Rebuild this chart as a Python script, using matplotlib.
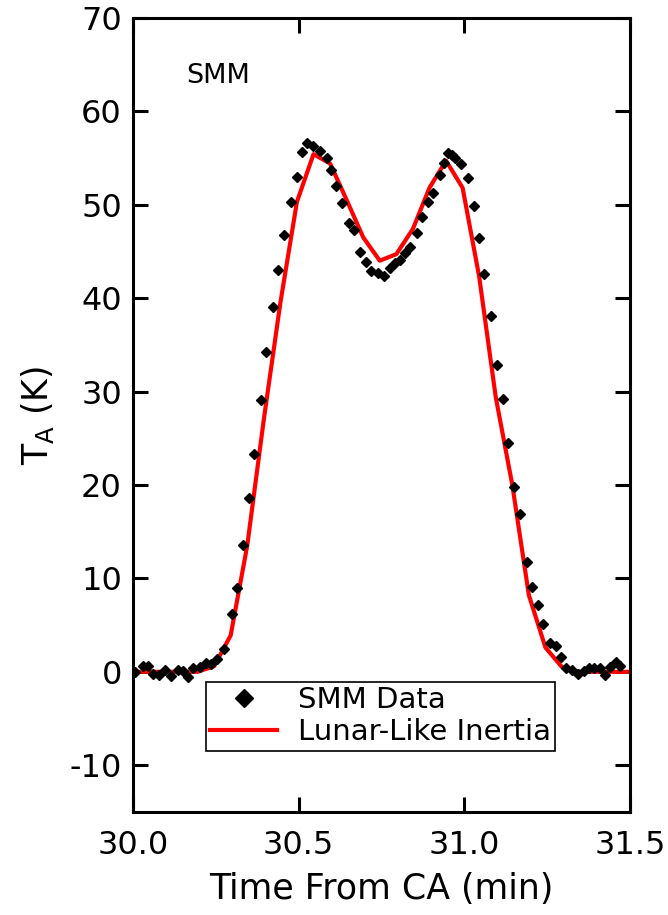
import matplotlib
matplotlib.use("Agg")
import matplotlib.pyplot as plt

plt.rcParams['font.family'] = ['DejaVu Sans']
plt.rcParams['axes.unicode_minus'] = False

# SMM data (time from CA in min, antenna temperature in K)
data_t = [30.006, 30.030, 30.046, 30.061, 30.078, 30.096, 30.116, 30.136, 30.151,
          30.166, 30.181, 30.201, 30.221, 30.236, 30.253, 30.276, 30.298, 30.313,
          30.333, 30.350, 30.366, 30.388, 30.403, 30.422, 30.439, 30.455, 30.477,
          30.494, 30.510, 30.526, 30.542, 30.564, 30.585, 30.597, 30.614, 30.631,
          30.651, 30.668, 30.685, 30.702, 30.719, 30.739, 30.758, 30.776, 30.791,
          30.806, 30.821, 30.836, 30.856, 30.871, 30.891, 30.906, 30.926, 30.940,
          30.952, 30.962, 30.972, 30.989, 31.012, 31.030, 31.044, 31.060, 31.080,
          31.098, 31.117, 31.133, 31.150, 31.168, 31.188, 31.205, 31.222, 31.238,
          31.258, 31.276, 31.293, 31.308, 31.326, 31.344, 31.361, 31.377, 31.393,
          31.409, 31.425, 31.441, 31.457, 31.470]
data_T = [0.0, 0.6, 0.6, -0.25, -0.3, 0.2, -0.4, 0.15, 0.1,
          -0.6, 0.4, 0.5, 0.9, 0.8, 1.35, 2.4, 6.2, 9.0,
          13.6, 18.6, 23.3, 29.1, 34.2, 39.0, 43.0, 46.8, 50.3,
          53.0, 55.6, 56.6, 56.3, 55.7, 55.0, 53.7, 52.0, 50.2,
          48.0, 47.3, 44.9, 43.9, 42.9, 42.7, 42.4, 43.2, 43.7,
          44.1, 44.8, 45.5, 47.0, 48.7, 50.3, 51.2, 53.2, 54.5,
          55.5, 55.3, 55.0, 54.3, 52.8, 49.8, 46.4, 42.6, 38.1,
          32.8, 29.2, 24.5, 19.75, 16.9, 11.8, 9.1, 7.1, 5.1,
          3.1, 2.8, 1.6, 0.4, 0.2, -0.25, 0.1, 0.4, 0.45,
          0.4, -0.3, 0.5, 1.0, 0.6]

# Lunar-like thermal inertia model
model_t = [30.0, 30.195, 30.245, 30.295, 30.345, 30.395, 30.445, 30.495, 30.545,
           30.595, 30.645, 30.695, 30.745, 30.795, 30.845, 30.895, 30.945, 30.995,
           31.045, 31.095, 31.145, 31.195, 31.245, 31.295, 31.345, 31.5]
model_T = [0.0, 0.0, 0.6, 3.9, 13.5, 27.0, 39.5, 50.3, 55.4,
           54.4, 50.5, 46.5, 44.0, 44.7, 47.4, 51.8, 54.7, 51.8,
           42.3, 29.4, 20.0, 8.2, 2.6, 0.5, 0.0, 0.0]

x_ticks = [30.0, 30.5, 31.0, 31.5]
x_ticklabels = ["30.0", "30.5", "31.0", "31.5"]
y_ticks = [-10, 0, 10, 20, 30, 40, 50, 60, 70]

fig = plt.figure(figsize=(6.68, 9.15), dpi=100)
ax = fig.add_axes([0.199, 0.1126, 0.744, 0.868])

ax.plot(model_t, model_T, color='#ff0000', lw=3.0, label='Lunar-Like Inertia', zorder=2)
ax.plot(data_t, data_T, linestyle='none', marker='D', markersize=5.5, color='black',
        label='SMM Data', zorder=3)

ax.set_xlim(30.0, 31.5)
ax.set_ylim(-15, 70)
ax.set_xticks(x_ticks)
ax.set_xticklabels(x_ticklabels)
ax.set_yticks(y_ticks)

for s in ax.spines.values():
    s.set_linewidth(2.2)
ax.tick_params(direction='in', length=11, width=2.2, labelsize=23,
               top=True, right=True)
ax.tick_params(axis='x', pad=13)
ax.tick_params(axis='y', pad=8)

ax.set_xlabel('Time From CA (min)', fontsize=25, labelpad=8)
ax.set_ylabel(r'T$_\mathrm{A}$ (K)', fontsize=25, labelpad=10)

ax.text(0.107, 0.927, 'SMM', transform=ax.transAxes, fontsize=19.5, va='center', ha='left')

handles, labels = ax.get_legend_handles_labels()
leg = ax.legend(handles[::-1], labels[::-1], loc='upper left',
                bbox_to_anchor=(0.147, 0.164), fontsize=21, fancybox=False,
                edgecolor='black', framealpha=1, borderpad=0.15, handlelength=2.3,
                handletextpad=0.7, labelspacing=0.15, borderaxespad=0,
                markerscale=1.6)
leg.get_frame().set_linewidth(1.2)

fig.savefig('out.png', dpi=100)
